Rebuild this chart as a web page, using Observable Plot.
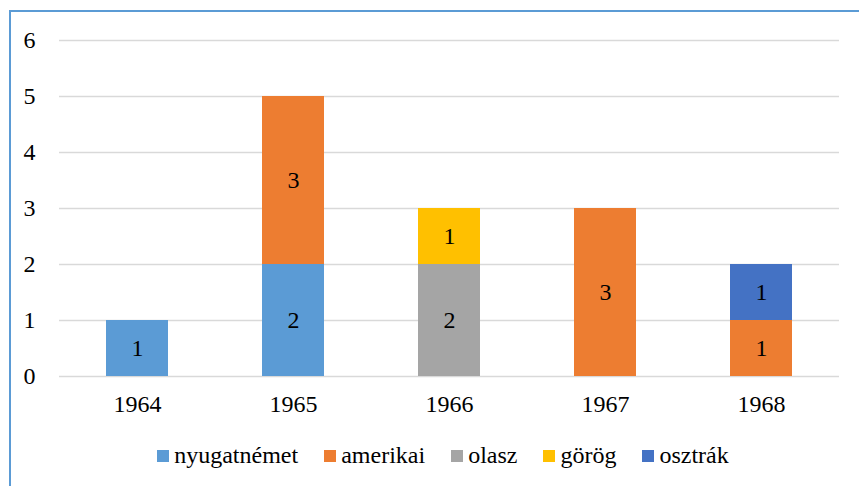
<!DOCTYPE html>
<html>
<head>
<meta charset="utf-8">
<style>
  html, body { margin: 0; padding: 0; background: #fff; overflow: hidden; }
  body { width: 859px; height: 486px; position: relative; font-family: "Liberation Serif", serif; }
  #frame { position: absolute; left: 9px; top: 10px; width: 900px; height: 600px; border-left: 2px solid #5B9BD5; border-top: 2px solid #5B9BD5; }
  #chart { position: absolute; left: 0; top: 0; }
  #legend { position: absolute; left: 0; width: 886px; top: 442px; display: flex; justify-content: center; gap: 26px; color: #000; font-family: "Liberation Serif", serif; font-size: 24px; }
  #legend .item { display: flex; align-items: center; }
  #legend .sw { width: 12px; height: 12px; margin-right: 5px; }
</style>
<script>
  if (document.fonts && document.fonts.load) {
    document.fonts.load("24px 'Liberation Serif'", "nyugatnémet görög osztrák 0123456789");
  }
</script>
<script src="https://cdn.jsdelivr.net/npm/d3@7"></script>
<script src="https://cdn.jsdelivr.net/npm/@observablehq/plot@0.6"></script>
</head>
<body>
<div id="frame"></div>
<div id="chart"></div>
<div id="legend">
  <div class="item"><span class="sw" style="background:#5B9BD5"></span><span>nyugatnémet</span></div>
  <div class="item"><span class="sw" style="background:#ED7D31"></span><span>amerikai</span></div>
  <div class="item"><span class="sw" style="background:#A5A5A5"></span><span>olasz</span></div>
  <div class="item"><span class="sw" style="background:#FFC000"></span><span>görög</span></div>
  <div class="item"><span class="sw" style="background:#4472C4"></span><span>osztrák</span></div>
</div>
<script>
const years = ["1964", "1965", "1966", "1967", "1968"];
const seriesNames = ["nyugatnémet", "amerikai", "olasz", "görög", "osztrák"];
const seriesColors = ["#5B9BD5", "#ED7D31", "#A5A5A5", "#FFC000", "#4472C4"];
const nyugatnemet = [1, 2, 0, 0, 0];
const amerikai = [0, 3, 0, 3, 1];
const olasz = [0, 0, 2, 0, 0];
const gorog = [0, 0, 1, 0, 0];
const osztrak = [0, 0, 0, 0, 1];
const yTicks = [0, 1, 2, 3, 4, 5, 6];

const FONT = "Liberation Serif";
const seriesValues = [nyugatnemet, amerikai, olasz, gorog, osztrak];
const data = [];
seriesNames.forEach((s, i) => {
  years.forEach((y, j) => {
    if (seriesValues[i][j] > 0) data.push({year: y, series: s, value: seriesValues[i][j]});
  });
});

const chart = Plot.plot({
  width: 859,
  height: 430,
  marginTop: 40,
  marginBottom: 54,
  marginLeft: 59,
  marginRight: 20,
  fontFamily: FONT,
  style: {fontSize: "24px", color: "#000", background: "transparent"},
  x: {domain: years, paddingInner: 0.6, paddingOuter: 0.3, label: null},
  y: {domain: [0, 6], label: null},
  color: {domain: seriesNames, range: seriesColors},
  marks: [
    Plot.ruleY(yTicks, {stroke: "#d9d9d9", strokeWidth: 1.5}),
    Plot.barY(data, Plot.stackY({x: "year", y: "value", fill: "series", order: seriesNames})),
    Plot.text(data, Plot.stackY({x: "year", y: "value", z: "series", text: d => String(d.value), order: seriesNames, fill: "#000", fontSize: 24, fontFamily: FONT})),
    Plot.axisX({tickSize: 0, tickPadding: 18, fontSize: 24, fill: "#000", fontFamily: FONT}),
    Plot.axisY({ticks: yTicks, tickFormat: d3.format("d"), tickSize: 0, tickPadding: 24, fontSize: 24, fill: "#000", fontFamily: FONT})
  ]
});
document.getElementById("chart").appendChild(chart);
</script>
</body>
</html>
